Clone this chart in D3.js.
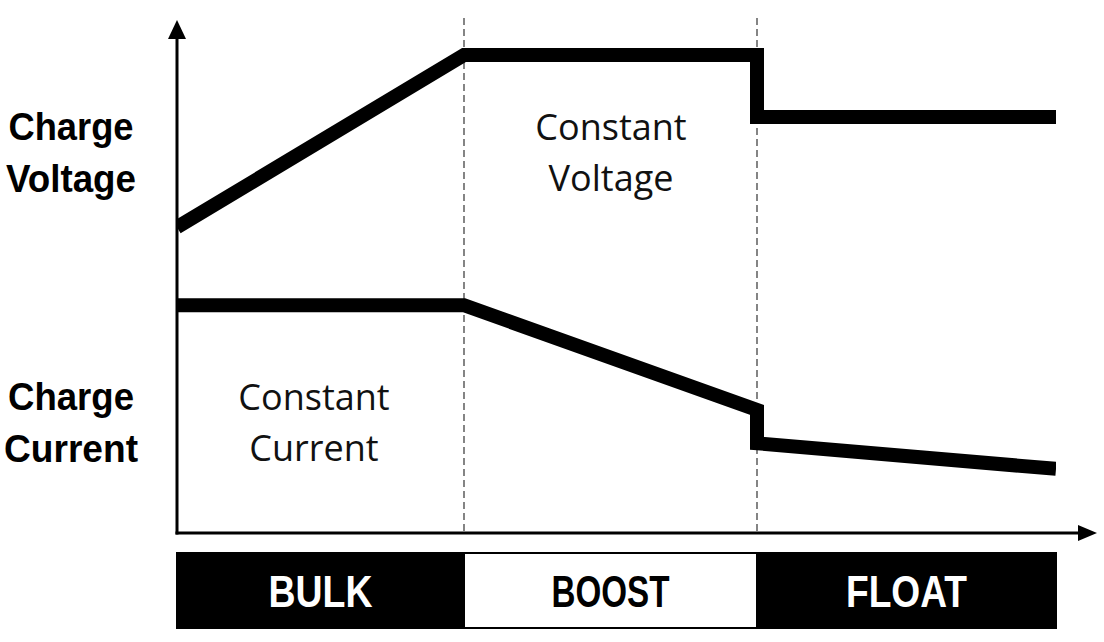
<html>
<head>
<meta charset="utf-8">
<script src="https://d3js.org/d3.v7.min.js"></script>
<style>
body {
  margin: 0;
  background: #fff;
}
svg {
  display: block;
}
.axis-line {
  stroke: #000;
  stroke-width: 3;
}
.phase-line {
  stroke: #444;
  stroke-width: 1.3;
  stroke-dasharray: 7,4;
}
.curve {
  fill: none;
  stroke: #000;
  stroke-width: 14;
  stroke-linejoin: miter;
  stroke-linecap: butt;
}
.side-label {
  font-family: "Liberation Sans", Arial, sans-serif;
  font-weight: bold;
  font-size: 39px;
}
.region-label {
  font-family: "Open Sans", sans-serif;
  font-size: 36px;
  fill: #111;
}
.phase-name {
  font-family: "Liberation Sans", Arial, sans-serif;
  font-weight: bold;
  font-size: 44px;
}
</style>
</head>
<body>

<svg width="1104" height="642"></svg>

<script>

// phases along the time axis
var phases = ["BULK", "BOOST", "FLOAT"];
var phaseBounds = [0, 1, 2, 3];

// relative level (0-100 of the axis height)
var voltageX = [0, 1, 2, 2, 3];
var voltageY = [59.6, 93.2, 93.2, 81.1, 81.1];

var currentX = [0, 1, 2, 2, 3];
var currentY = [44.4, 44.4, 24, 17.5, 12.5];

var sideLabels = [["Charge", "Voltage"], ["Charge", "Current"]];
var regionLabels = [
  {lines: ["Constant", "Voltage"], phase: 1},
  {lines: ["Constant", "Current"], phase: 0}
];

var svg = d3.select("svg");

var x = d3.scaleLinear()
    .domain(phaseBounds)
    .range([177, 464, 757, 1056]);

var y = d3.scaleLinear()
    .domain([0, 100])
    .range([533, 20]);

// keep the thick curves inside the plot horizontally
svg.append("clipPath").attr("id", "plot-clip")
  .append("rect")
    .attr("x", x(0)).attr("y", 0)
    .attr("width", x(3) - x(0)).attr("height", y(0));

// dashed phase boundaries
svg.selectAll(".phase-line")
    .data(phaseBounds.slice(1, 3))
  .enter().append("line")
    .attr("class", "phase-line")
    .attr("x1", d => x(d)).attr("x2", d => x(d))
    .attr("y1", 18).attr("y2", y(0));

// axes with arrow heads
svg.append("line").attr("class", "axis-line")
    .attr("x1", x(0)).attr("x2", x(0))
    .attr("y1", y(0) + 1.5).attr("y2", 34);
svg.append("path")
    .attr("d", "M" + x(0) + ",20 L" + (x(0) - 9) + ",39 L" + (x(0) + 9) + ",39 Z");

svg.append("line").attr("class", "axis-line")
    .attr("x1", x(0) - 1.5).attr("x2", 1082)
    .attr("y1", y(0)).attr("y2", y(0));
svg.append("path")
    .attr("d", "M1097," + y(0) + " L1078," + (y(0) - 8) + " L1078," + (y(0) + 8) + " Z");

// curves
var line = d3.line()
    .x(d => x(d[0]))
    .y(d => y(d[1]));

var curves = svg.append("g").attr("clip-path", "url(#plot-clip)");

curves.append("path")
    .attr("class", "curve")
    .attr("d", line(d3.zip(voltageX, voltageY)));

curves.append("path")
    .attr("class", "curve")
    .attr("d", line(d3.zip(currentX, currentY)));

// labels on the left
var sideY = [140, 410];
var sideLen = [[125, 130], [126, 134]];
sideLabels.forEach(function(lines, i) {
    lines.forEach(function(t, j) {
        svg.append("text")
            .attr("class", "side-label")
            .attr("x", 71)
            .attr("y", sideY[i] + j * 52)
            .attr("text-anchor", "middle")
            .attr("textLength", sideLen[i][j])
            .attr("lengthAdjust", "spacingAndGlyphs")
            .text(t);
    });
});

// labels inside the plot
var regionY = [140, 410];
var regionX = [611, 314];
regionLabels.forEach(function(r, i) {
    r.lines.forEach(function(t, j) {
        svg.append("text")
            .attr("class", "region-label")
            .attr("x", regionX[i])
            .attr("y", regionY[i] + j * 51)
            .attr("text-anchor", "middle")
            .text(t);
    });
});

// phase band at the bottom
var nameLen = [104, 118, 121];

var band = svg.selectAll(".phase")
    .data(phases)
  .enter().append("g")
    .attr("class", "phase");

band.append("rect")
    .attr("x", (d, i) => x(phaseBounds[i]))
    .attr("y", 553)
    .attr("width", (d, i) => x(phaseBounds[i + 1]) - x(phaseBounds[i]))
    .attr("height", 75)
    .attr("fill", d => d == "BOOST" ? "#fff" : "#000")
    .attr("stroke", "#000")
    .attr("stroke-width", 2);

band.append("text")
    .attr("class", "phase-name")
    .attr("x", (d, i) => (x(phaseBounds[i]) + x(phaseBounds[i + 1])) / 2)
    .attr("y", 607)
    .attr("text-anchor", "middle")
    .attr("textLength", (d, i) => nameLen[i])
    .attr("lengthAdjust", "spacingAndGlyphs")
    .attr("fill", d => d == "BOOST" ? "#000" : "#fff")
    .text(d => d);

</script>
</body>
</html>
